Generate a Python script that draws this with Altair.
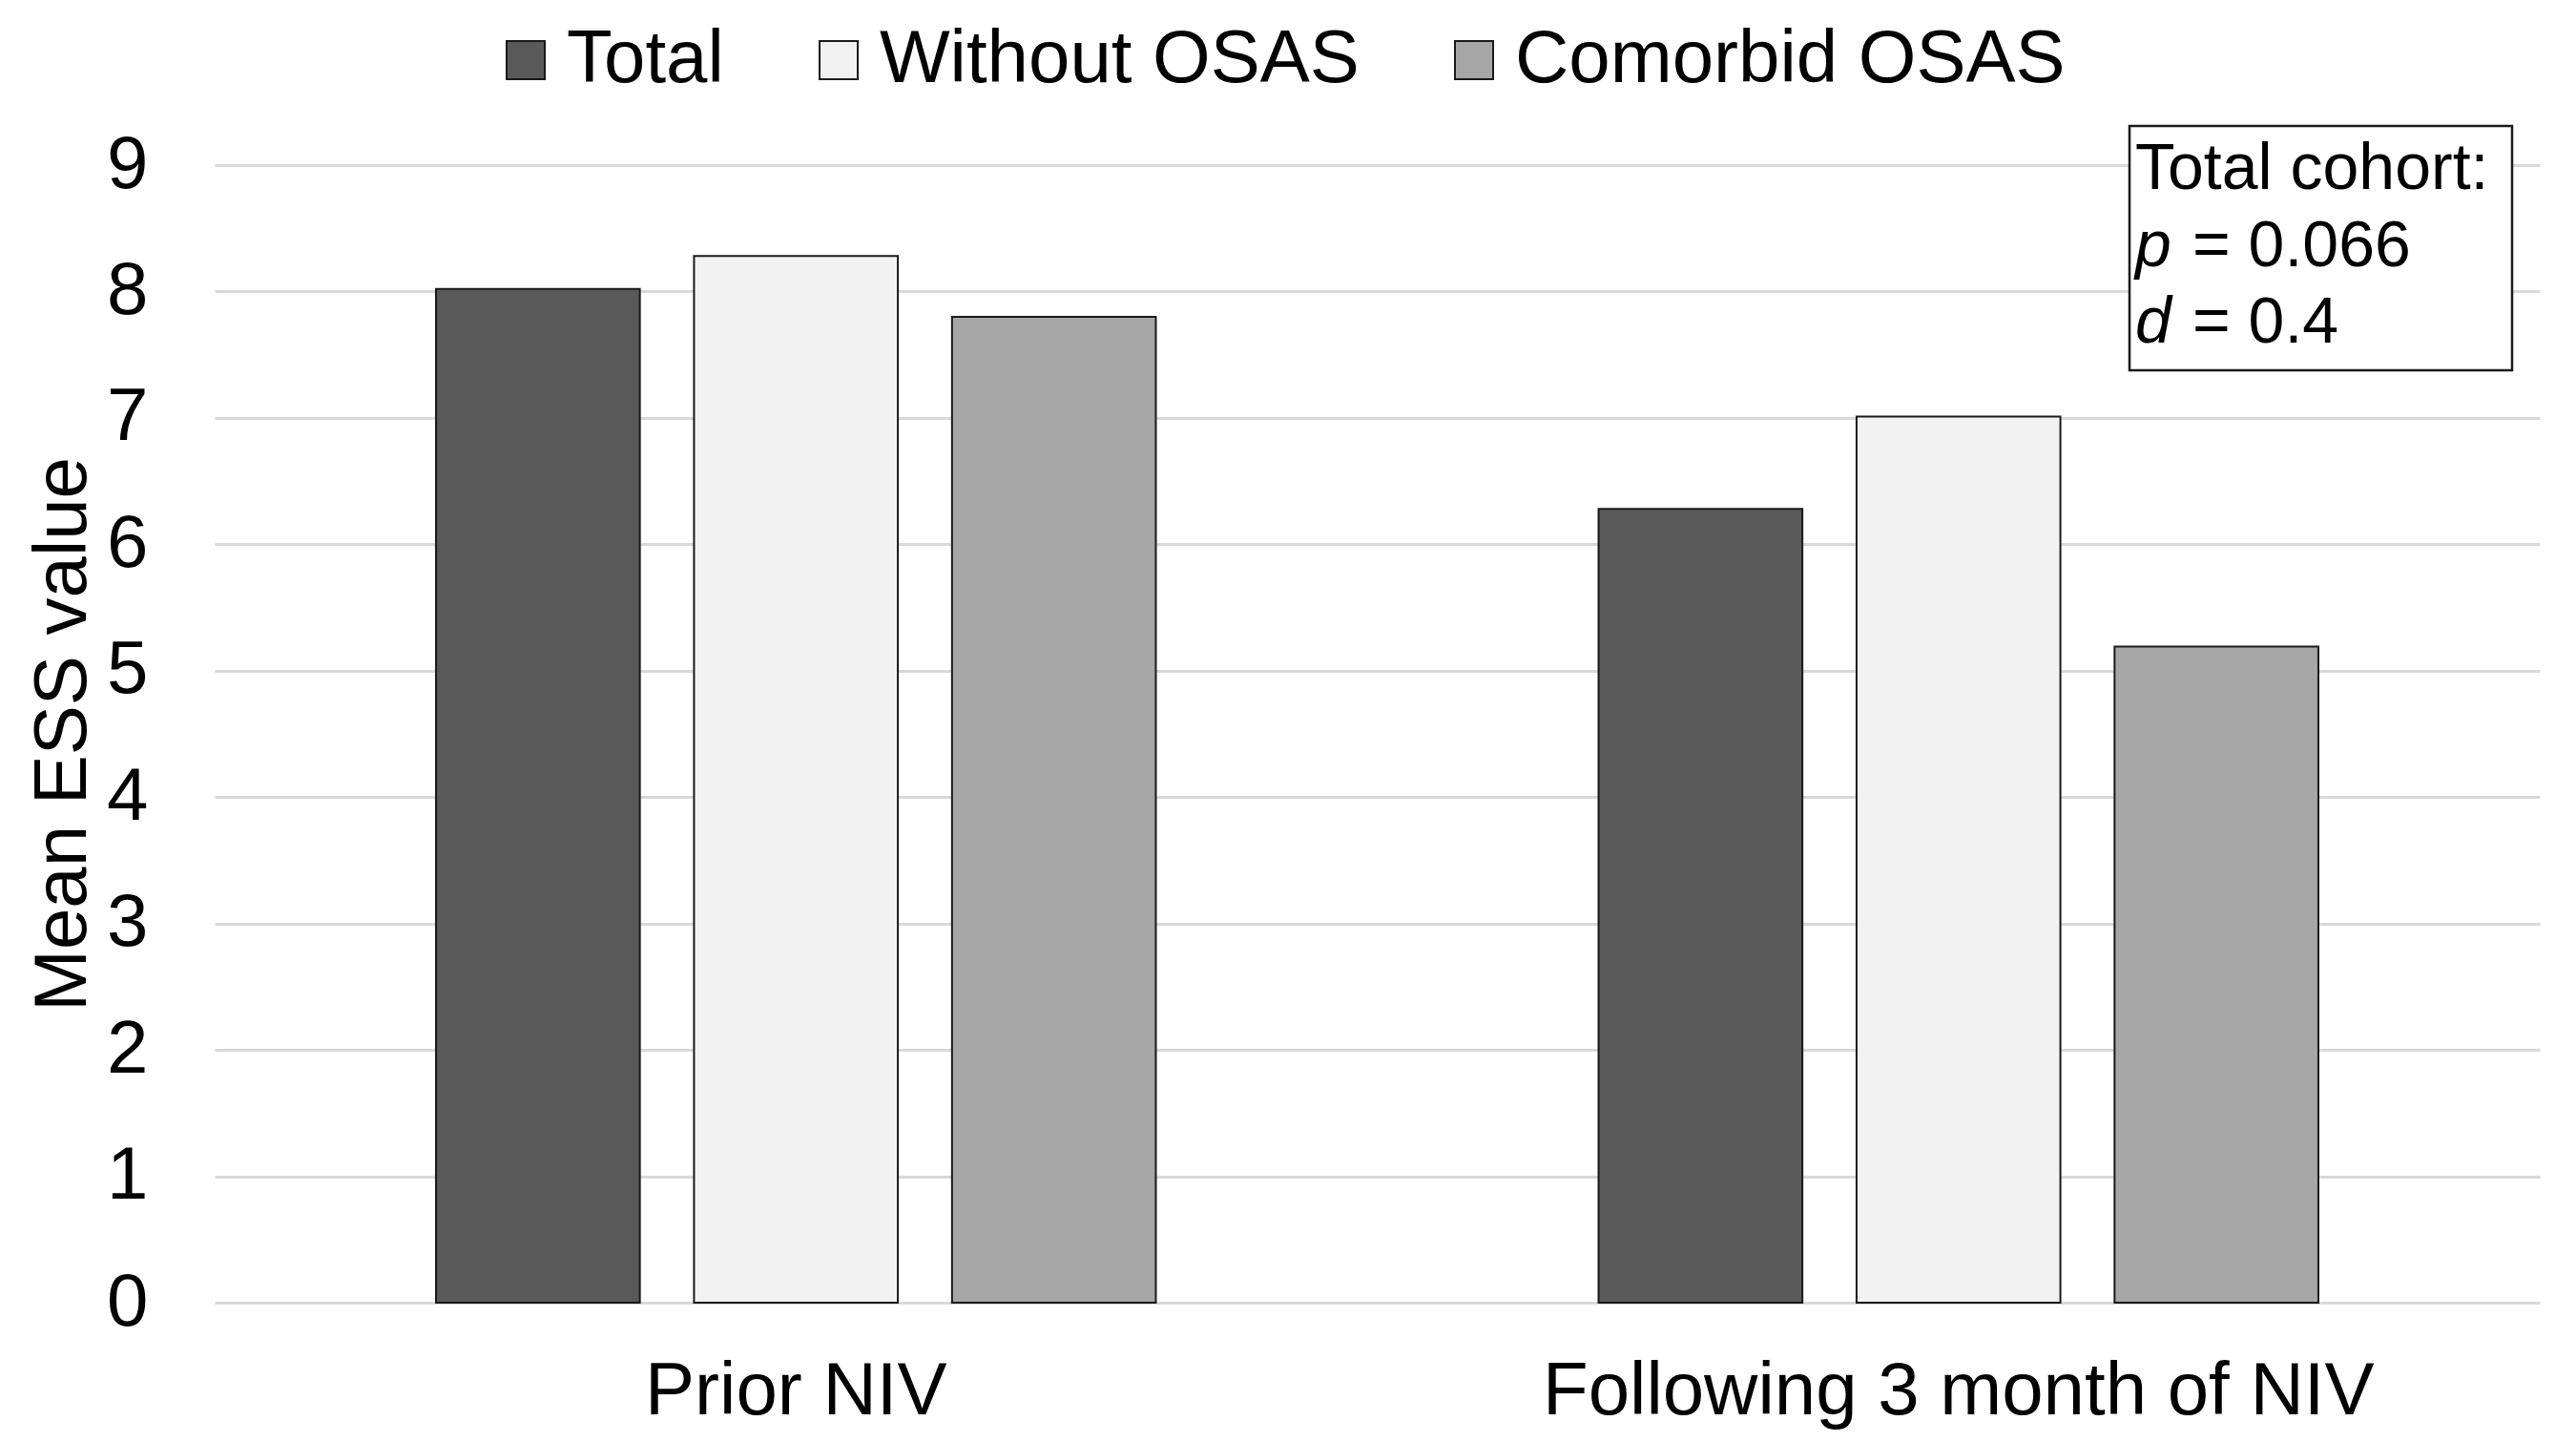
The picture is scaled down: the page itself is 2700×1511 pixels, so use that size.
import altair as alt
import pandas as pd

# ---- data ----
groups = ["Prior NIV", "Following 3 month of NIV"]
series = ["Total", "Without OSAS", "Comorbid OSAS"]
prior_values = [8.02, 8.28, 7.80]
following_values = [6.28, 7.01, 5.19]
colors = ["#595959", "#f2f2f2", "#a6a6a6"]
y_ticks = list(range(0, 10))
note_title = "Total cohort:"
note_p_symbol = "p"
note_p_value = "= 0.066"
note_d_symbol = "d"
note_d_value = "= 0.4"

rows = []
for g, vals in zip(groups, [prior_values, following_values]):
    for s, v in zip(series, vals):
        rows.append({"group": g, "series": s, "value": v})
df = pd.DataFrame(rows)

FONT = "Liberation Sans"
W, H = 2437, 1192

bars = alt.Chart(df).mark_bar(stroke="#1a1a1a", strokeWidth=2).encode(
    x=alt.X(
        "group:N", sort=groups,
        scale=alt.Scale(paddingInner=0, paddingOuter=0),
        axis=alt.Axis(title=None, labelAngle=0, labelFontSize=78, labelFont=FONT,
                      labelColor="black", labelPadding=54, ticks=False, tickSize=0,
                      domain=False, grid=False, labelLimit=3000),
    ),
    xOffset=alt.XOffset("series:N", sort=series,
                        scale=alt.Scale(paddingInner=0.21, paddingOuter=0.858)),
    y=alt.Y(
        "value:Q",
        scale=alt.Scale(domain=[0, 9], nice=False),
        axis=alt.Axis(values=y_ticks, title="Mean ESS value", titleFontSize=78,
                      titleFont=FONT, titleFontWeight="normal", titleColor="black",
                      titleX=-159, titleY=H / 2, titleAngle=270, titleAlign="center",
                      titleBaseline="middle",
                      labelFontSize=78, labelFont=FONT, labelColor="black",
                      labelPadding=70, ticks=False, tickSize=0, domain=False,
                      grid=True, gridColor="#d9d9d9", gridWidth=3),
    ),
    color=alt.Color(
        "series:N", sort=series,
        scale=alt.Scale(domain=series, range=colors),
        legend=alt.Legend(title=None, orient="none", legendX=287, legendY=-149,
                          direction="horizontal", symbolType="square",
                          symbolSize=1600, symbolStrokeColor="#1a1a1a",
                          symbolStrokeWidth=2, symbolOpacity=1,
                          labelFontSize=78, labelFont=FONT, labelColor="black",
                          labelOffset=4, columnPadding=81, padding=0,
                          labelLimit=3000),
    ),
)

one = pd.DataFrame({"k": [0]})

box = alt.Chart(one).mark_rect(fill="white", stroke="#1a1a1a", strokeWidth=2.5).encode(
    x=alt.value(2007), x2=alt.value(2408), y=alt.value(-41), y2=alt.value(215)
)


def note(text, x, y, italic=False):
    return alt.Chart(pd.DataFrame({"t": [text]})).mark_text(
        align="left", baseline="alphabetic", fontSize=68, font=FONT,
        fontStyle="italic" if italic else "normal", color="black"
    ).encode(x=alt.value(x), y=alt.value(y), text="t:N")


chart = alt.layer(
    bars,
    box,
    note(note_title, 2013, 25),
    note(note_p_symbol, 2013, 106, italic=True),
    note(note_p_value, 2073, 106),
    note(note_d_symbol, 2013, 186, italic=True),
    note(note_d_value, 2073, 186),
).properties(
    width=W, height=H,
    autosize=alt.AutoSizeParams(type="none"),
    padding={"left": 217, "top": 165, "right": 30, "bottom": 140},
).configure_view(stroke=None)

chart.save("out.html", embed_options={"renderer": "svg", "actions": False})
